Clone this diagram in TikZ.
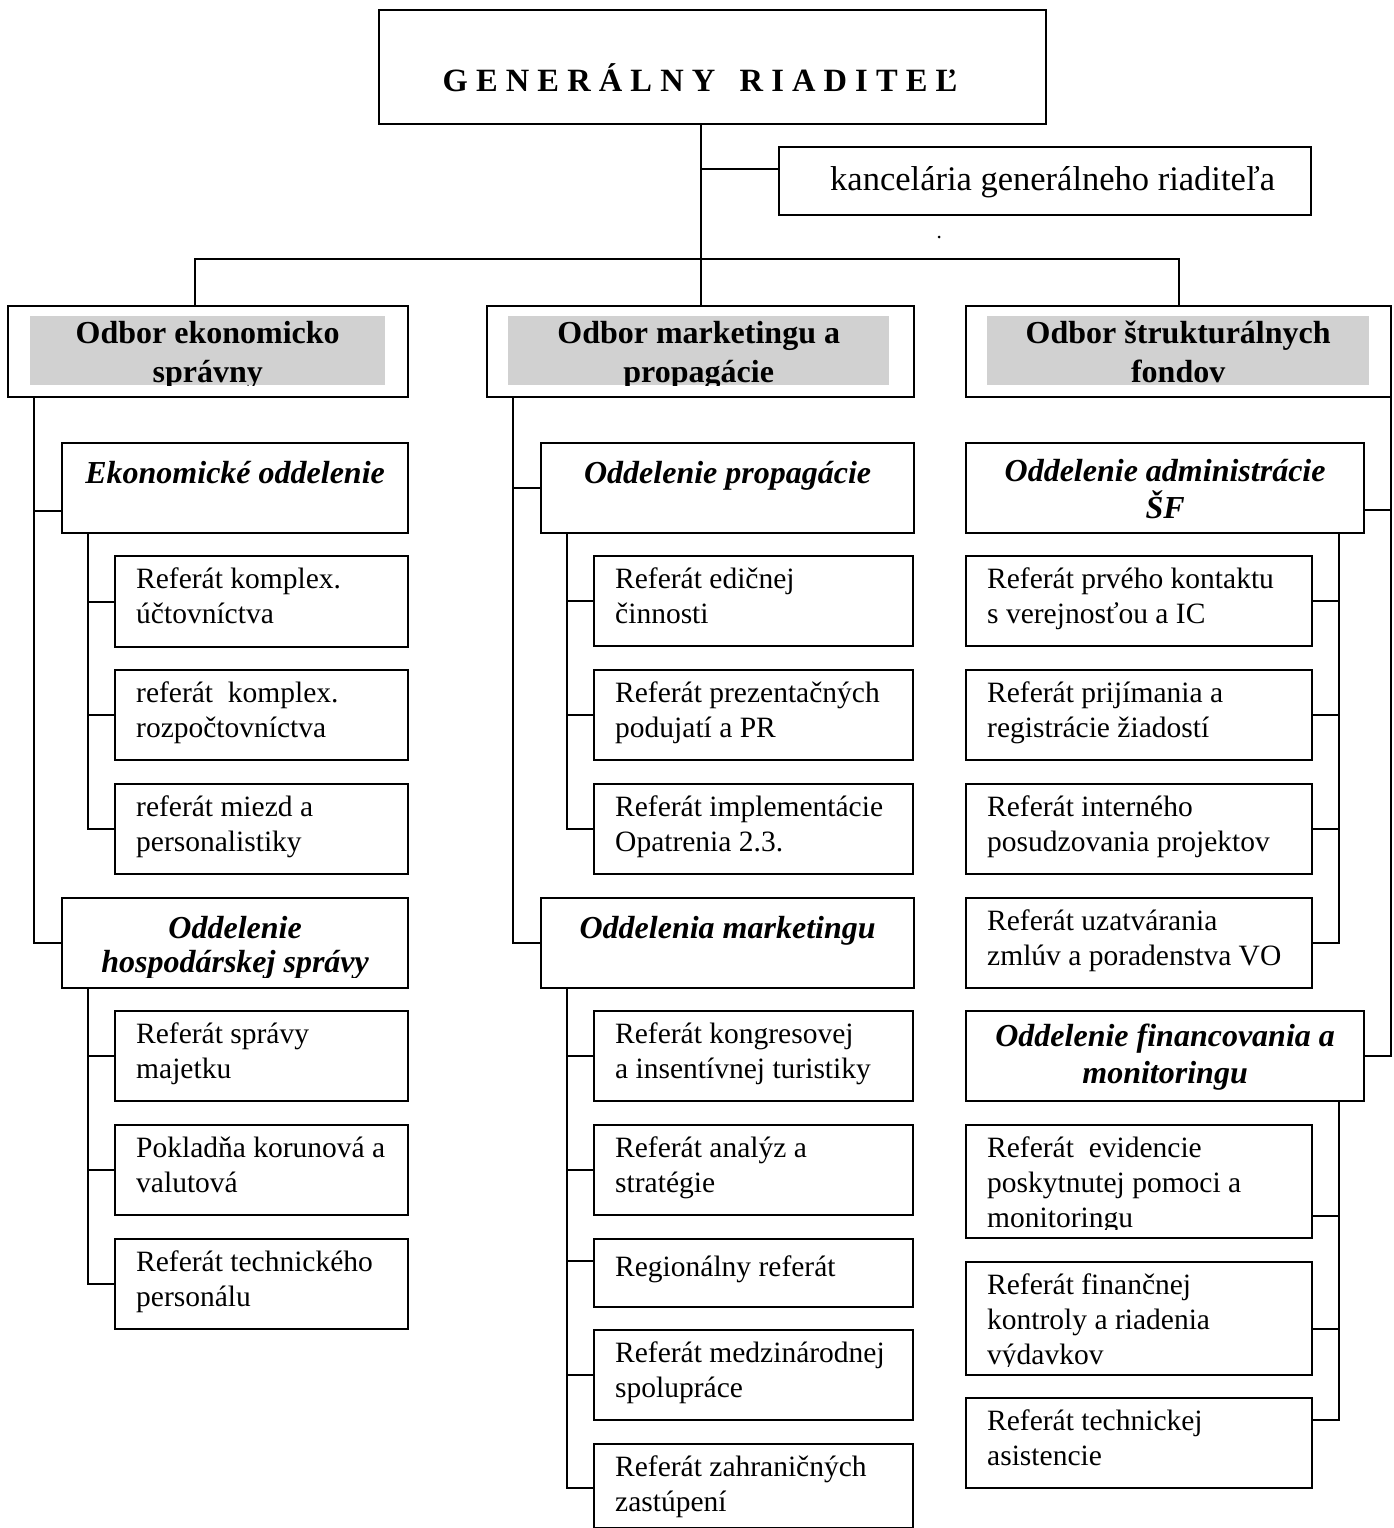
\documentclass[tikz,border=0pt]{standalone}
\usepackage{fontspec}
\setmainfont{Liberation Serif}
\usetikzlibrary{calc}
\newcommand\rfont{\fontsize{29.5}{35}\selectfont}
\newcommand\hfont{\fontsize{32}{37}\selectfont\bfseries\itshape}
\newcommand\dfont{\fontsize{32}{39}\selectfont\bfseries}
\newcommand\bx[5]{\node[box,minimum width=#4,minimum height=#5] (#1) at (#2,#3) {};}
\begin{document}
\begin{tikzpicture}[x=1pt,y=-1pt,
  box/.style={draw,line width=2.2,anchor=north west,inner sep=0,fill=white},
  gbox/.style={fill=black!18,anchor=north west,inner sep=0},
  conn/.style={line width=2.2},
  rtext/.style={anchor=north west,inner sep=0,align=left,font=\rfont,execute at begin node=\rule{0pt}{25pt}},
  htext/.style={anchor=north,inner sep=0,align=center,font=\hfont,execute at begin node=\rule{0pt}{26pt}},
  dtext/.style={anchor=north,inner sep=0,align=center,font=\dfont,execute at begin node=\rule{0pt}{26pt}}]
\useasboundingbox (0,0) rectangle (1394,1528);
% ---- top
\bx{gr}{378}{9}{667}{114}
\bx{kanc}{778}{146}{532}{68}
\node[font=\fontsize{32.5}{39}\selectfont\bfseries,anchor=base,inner sep=0] (grt) at (700,91) {G E N E R Á L N Y~~~R I A D I T E Ľ};
\node[font=\fontsize{34.5}{40}\selectfont,anchor=base west,inner sep=0] (kanct) at (830,190) {kancelária generálneho riaditeľa};
\fill (939,237) circle (1.5);
% ---- divisions
\bx{lf}{7}{305}{400}{91}
\bx{mf}{486}{305}{427}{91}
\bx{rf}{965}{305}{425}{91}
\node[gbox,minimum width=355,minimum height=69] (lfg) at (30,316) {};
\node[gbox,minimum width=381,minimum height=69] (mfg) at (508,316) {};
\node[gbox,minimum width=382,minimum height=69] (rfg) at (987,316) {};
\begin{scope}
\clip (lfg.north west) rectangle (lfg.south east);
\node[dtext] (lft) at ($(lfg.north)+(0,5)$) {Odbor ekonomicko\\správny};
\end{scope}
\begin{scope}
\clip (mfg.north west) rectangle (mfg.south east);
\node[dtext] (mft) at ($(mfg.north)+(0,5)$) {Odbor marketingu a\\propagácie};
\end{scope}
\begin{scope}
\clip (rfg.north west) rectangle (rfg.south east);
\node[dtext] (rft) at ($(rfg.north)+(0,5)$) {Odbor štrukturálnych\\fondov};
\end{scope}
% ---- left column
\bx{eko}{61}{442}{346}{90}
\node[htext] (ekot) at ($(eko.north)+(0,15)$) {Ekonomické oddelenie};
\bx{r1}{114}{555}{293}{91}
\bx{r2}{114}{669}{293}{90}
\bx{r3}{114}{783}{293}{90}
\node[rtext] (r1t) at ($(r1.north west)+(22,13)$) {Referát komplex.\\účtovníctva};
\node[rtext] (r2t) at ($(r2.north west)+(22,13)$) {referát\ \ komplex.\\rozpočtovníctva};
\node[rtext] (r3t) at ($(r3.north west)+(22,13)$) {referát miezd a\\personalistiky};
\bx{hosp}{61}{897}{346}{90}
\begin{scope}
\clip (hosp.north west) rectangle ($(hosp.south east)+(0,-12)$);
\node[htext,font=\fontsize{32}{34}\selectfont\bfseries\itshape] (hospt) at ($(hosp.north)+(0,19)$) {Oddelenie\\hospodárskej správy};
\end{scope}
\bx{h1}{114}{1010}{293}{90}
\bx{h2}{114}{1124}{293}{90}
\bx{h3}{114}{1238}{293}{90}
\node[rtext] (h1t) at ($(h1.north west)+(22,13)$) {Referát správy\\majetku};
\node[rtext] (h2t) at ($(h2.north west)+(22,13)$) {Pokladňa korunová a\\valutová};
\node[rtext] (h3t) at ($(h3.north west)+(22,13)$) {Referát technického\\personálu};
% ---- middle column
\bx{prop}{540}{442}{373}{90}
\node[htext] (propt) at ($(prop.north)+(0,15)$) {Oddelenie propagácie};
\bx{m1}{593}{555}{319}{90}
\bx{m2}{593}{669}{319}{90}
\bx{m3}{593}{783}{319}{90}
\node[rtext] (m1t) at ($(m1.north west)+(22,13)$) {Referát edičnej\\činnosti};
\node[rtext] (m2t) at ($(m2.north west)+(22,13)$) {Referát prezentačných\\podujatí a PR};
\node[rtext] (m3t) at ($(m3.north west)+(22,13)$) {Referát implementácie\\Opatrenia 2.3.};
\bx{mark}{540}{897}{373}{90}
\node[htext] (markt) at ($(mark.north)+(0,15)$) {Oddelenia marketingu};
\bx{n1}{593}{1010}{319}{90}
\bx{n2}{593}{1124}{319}{90}
\bx{n3}{593}{1238}{319}{68}
\bx{n4}{593}{1329}{319}{90}
\bx{n5}{593}{1443}{319}{84}
\node[rtext] (n1t) at ($(n1.north west)+(22,13)$) {Referát kongresovej\\a insentívnej turistiky};
\node[rtext] (n2t) at ($(n2.north west)+(22,13)$) {Referát analýz a\\stratégie};
\node[rtext] (n3t) at ($(n3.north west)+(22,13)$) {Regionálny referát};
\node[rtext] (n4t) at ($(n4.north west)+(22,13)$) {Referát medzinárodnej\\spolupráce};
\node[rtext] (n5t) at ($(n5.north west)+(22,13)$) {Referát zahraničných\\zastúpení};
% ---- right column
\bx{adm}{965}{442}{398}{90}
\node[htext] (admt) at ($(adm.north)+(0,17)$) {Oddelenie administrácie\\ŠF};
\bx{s1}{965}{555}{346}{90}
\bx{s2}{965}{669}{346}{90}
\bx{s3}{965}{783}{346}{90}
\bx{s4}{965}{897}{346}{90}
\node[rtext] (s1t) at ($(s1.north west)+(22,13)$) {Referát prvého kontaktu\\s verejnosťou a IC};
\node[rtext] (s2t) at ($(s2.north west)+(22,13)$) {Referát prijímania a\\registrácie žiadostí};
\node[rtext] (s3t) at ($(s3.north west)+(22,13)$) {Referát interného\\posudzovania projektov};
\node[rtext] (s4t) at ($(s4.north west)+(22,13)$) {Referát uzatvárania\\zmlúv a poradenstva VO};
\bx{fin}{965}{1010}{398}{90}
\begin{scope}
\clip (fin.north west) rectangle ($(fin.south east)+(0,-12)$);
\node[htext] (fint) at ($(fin.north)+(0,14)$) {Oddelenie financovania a\\monitoringu};
\end{scope}
\bx{f1}{965}{1124}{346}{113}
\bx{f2}{965}{1261}{346}{113}
\bx{f3}{965}{1397}{346}{90}
\begin{scope}
\clip (f1.north west) rectangle ($(f1.south east)+(0,-10)$);
\node[rtext] (f1t) at ($(f1.north west)+(22,13)$) {Referát\ \ evidencie\\poskytnutej pomoci a\\monitoringu};
\end{scope}
\begin{scope}
\clip (f2.north west) rectangle ($(f2.south east)+(0,-10)$);
\node[rtext] (f2t) at ($(f2.north west)+(22,13)$) {Referát finančnej\\kontroly a riadenia\\výdavkov};
\end{scope}
\node[rtext] (f3t) at ($(f3.north west)+(22,13)$) {Referát technickej\\asistencie};
% ---- connectors
\coordinate (bus) at (699.5,259);
\draw[conn] (gr.south -| mf.north) -- (mf.north);
\draw[conn] ([yshift=12pt]kanc.west) -| (mf.north);
\draw[conn] ([xshift=-13pt]lf.north) |- (bus) -| (rf.north);
% left
\coordinate (lv) at ([xshift=27pt]lf.south west);
\draw[conn] (lv) |- (hosp.west);
\draw[conn] (lv) |- ([yshift=-23pt]eko.west);
\coordinate (es) at ([xshift=27pt]eko.south west);
\foreach \n in {r1,r2,r3} \draw[conn] (es) |- (\n.west);
\coordinate (hs) at ([xshift=27pt]hosp.south west);
\foreach \n in {h1,h2,h3} \draw[conn] (hs) |- (\n.west);
% middle
\coordinate (mv) at ([xshift=27pt]mf.south west);
\draw[conn] (mv) |- (prop.west);
\draw[conn] (mv) |- (mark.west);
\coordinate (ps) at ([xshift=27pt]prop.south west);
\foreach \n in {m1,m2,m3} \draw[conn] (ps) |- (\n.west);
\coordinate (ks) at ([xshift=27pt]mark.south west);
\draw[conn] (ks) |- (n1.west);
\draw[conn] (ks) |- (n2.west);
\draw[conn] (ks) |- ([yshift=12pt]n3.west);
\draw[conn] (ks) |- (n4.west);
\draw[conn] (ks) |- ([yshift=-2pt]n5.west);
% right
\draw[conn] ([xshift=-1pt]rf.south east) |- (fin.east);
\draw[conn] ([xshift=-1pt]rf.south east) |- ([yshift=-22pt]adm.east);
\coordinate (as) at ([xshift=-26pt]adm.south east);
\foreach \n in {s1,s2,s3,s4} \draw[conn] (as) |- (\n.east);
\coordinate (fs) at ([xshift=-26pt]fin.south east);
\draw[conn] (fs) |- ([yshift=-34.5pt]f1.east);
\draw[conn] (fs) |- ([yshift=-10.5pt]f2.east);
\draw[conn] (fs) |- ([yshift=23pt]f3.east);
\end{tikzpicture}
\end{document}
